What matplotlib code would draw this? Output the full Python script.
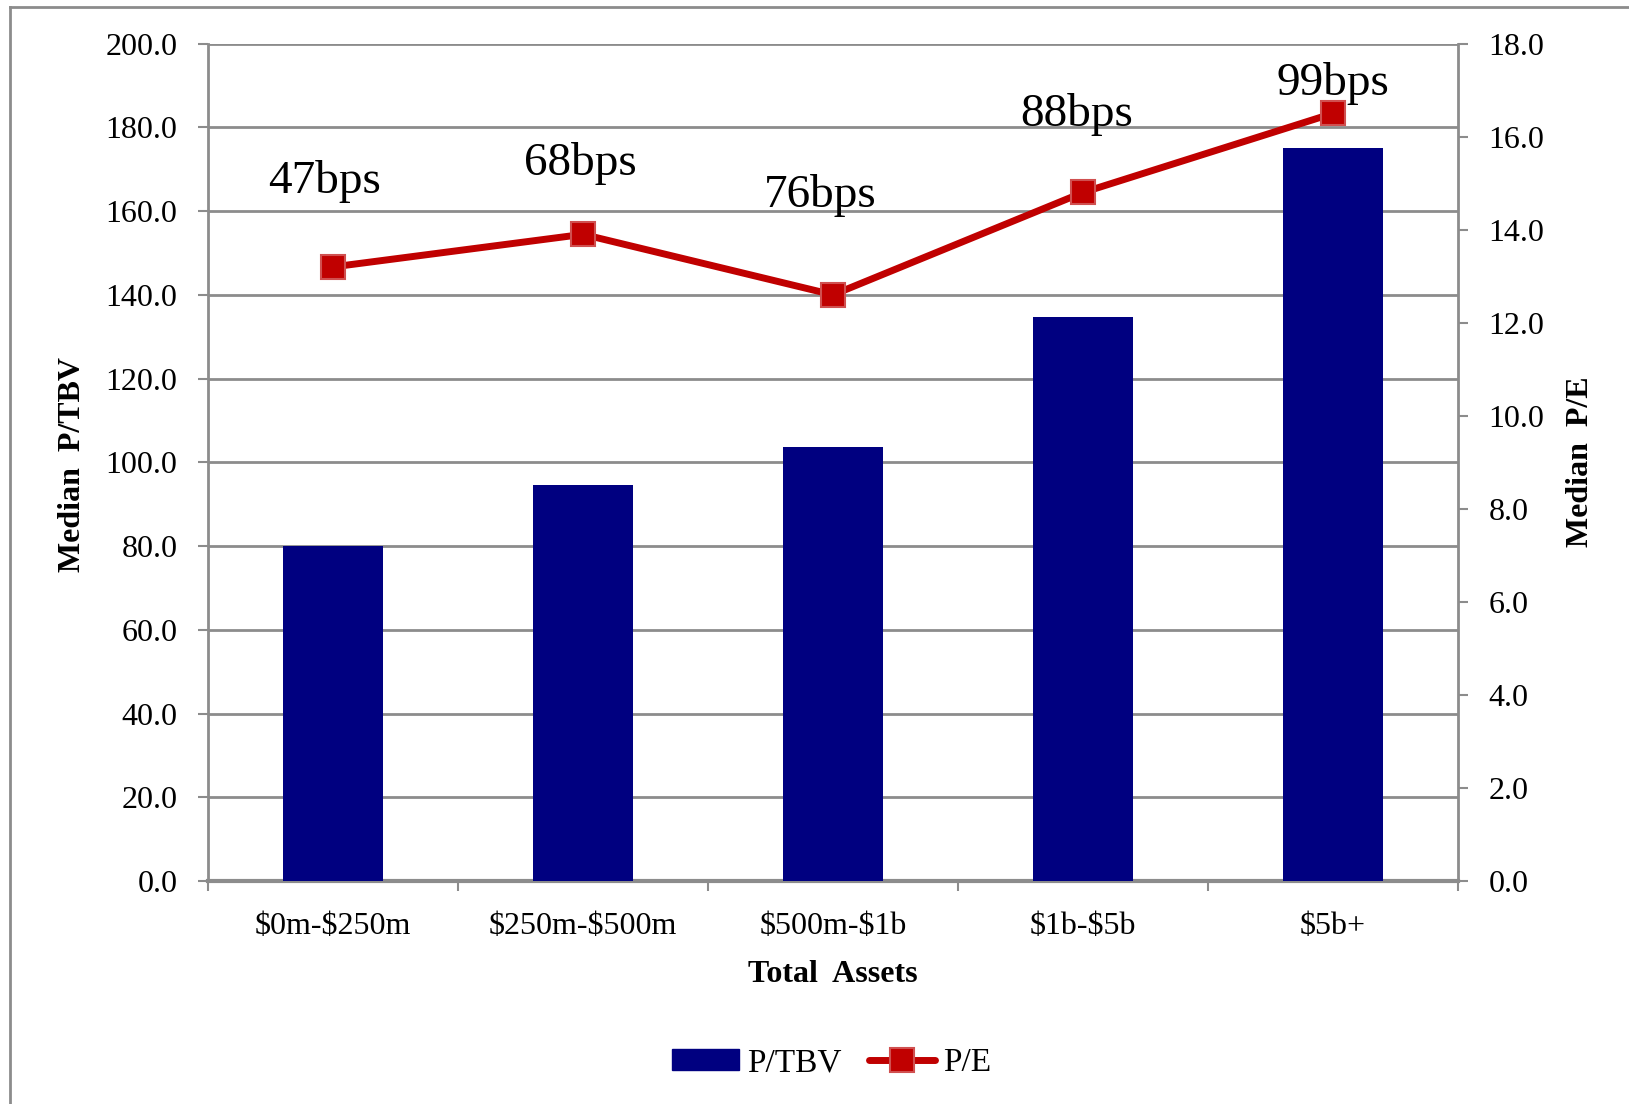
import matplotlib
matplotlib.use("Agg")
import matplotlib.pyplot as plt
from matplotlib.lines import Line2D
from matplotlib.patches import Patch
import numpy as np

# Data
categories = ["$0m-$250m", "$250m-$500m", "$500m-$1b", "$1b-$5b", "$5b+"]
p_tbv = [80.0, 94.5, 103.7, 134.7, 175.0]
p_e = [13.2, 13.9, 12.6, 14.8, 16.5]
bps_labels = ["47bps", "68bps", "76bps", "88bps", "99bps"]
bps_label_y = [14.79, 15.18, 14.49, 16.23, 16.90]
bps_label_dx = [-0.034, -0.01, -0.05, -0.025, 0.0]
left_ticks = [0, 20, 40, 60, 80, 100, 120, 140, 160, 180, 200]
right_ticks = [0, 2, 4, 6, 8, 10, 12, 14, 16, 18]

plt.rcParams["font.family"] = ["Liberation Serif", "DejaVu Serif"]
plt.rcParams["text.parse_math"] = False

W, H = 1629, 1104
fig = plt.figure(figsize=(W / 100, H / 100), dpi=100)

grey = "#8c8c8c"
navy = "#000080"
red = "#C00000"

ax = fig.add_axes([208 / W, 1 - 881 / H, (1458 - 208) / W, (881 - 43.6) / H])
ax2 = ax.twinx()

x = np.arange(len(categories))
ax.bar(x, p_tbv, width=0.4, color=navy, zorder=3)
ax.set_xlim(-0.5, len(categories) - 0.5)
ax.set_ylim(0, 200)
ax.set_yticks(left_ticks)
ax.set_yticklabels([f"{v:.1f}" for v in left_ticks])
ax.yaxis.grid(True, color=grey, linewidth=2.0, zorder=0)
ax.set_axisbelow(True)

ax.set_xticks(x)
ax.set_xticklabels(categories)
ax.set_xticks(np.arange(len(categories) + 1) - 0.5, minor=True)
ax.tick_params(axis="x", which="major", length=0, pad=22, labelsize=23)
ax.tick_params(axis="x", which="minor", length=7, width=1.5, color=grey, direction="out")
ax.tick_params(axis="y", length=7, width=1.5, color=grey, pad=15, labelsize=23)

ax.spines["top"].set_visible(False)
ax2.spines["top"].set_visible(False)
ax.spines["left"].set_color(grey)
ax.spines["left"].set_linewidth(2.0)
ax.spines["bottom"].set_color(grey)
ax.spines["bottom"].set_linewidth(3.0)
ax.spines["right"].set_visible(False)
ax2.spines["left"].set_visible(False)
ax2.spines["bottom"].set_visible(False)
ax2.spines["right"].set_color(grey)
ax2.spines["right"].set_linewidth(2.0)

ax2.plot(x, p_e, color=red, linewidth=5, marker="s", markersize=17,
         markerfacecolor=red, markeredgecolor="#d05050", markeredgewidth=1.5,
         zorder=4, solid_capstyle="round")
ax2.set_ylim(0, 18)
ax2.set_yticks(right_ticks)
ax2.set_yticklabels([f"{v:.1f}" for v in right_ticks])
ax2.tick_params(axis="y", length=7, width=1.5, color=grey, pad=15, labelsize=23)

for i, (lab, ly, dx) in enumerate(zip(bps_labels, bps_label_y, bps_label_dx)):
    ax2.text(i + dx, ly, lab, ha="center", va="baseline", fontsize=34, zorder=5)

# Axis titles
fig.text(72 / W, 1 - 465 / H, "Median  P/TBV", rotation=90, ha="center", va="center",
         fontsize=23, fontweight="bold")
fig.text(1581 / W, 1 - 462 / H, "Median  P/E", rotation=90, ha="center", va="center",
         fontsize=23, fontweight="bold")
fig.text(833 / W, 1 - 975 / H, "Total  Assets", ha="center", va="center",
         fontsize=23, fontweight="bold")

# Legend
handles = [
    Patch(facecolor=navy, edgecolor=navy),
    Line2D([0], [0], color=red, linewidth=5, marker="s", markersize=17,
           markerfacecolor=red, markeredgecolor="#d05050", markeredgewidth=1.5,
           solid_capstyle="round"),
]
fig.legend(handles, ["P/TBV", "P/E"], loc="center", bbox_to_anchor=(832 / W, 1 - 1063 / H),
           ncol=2, frameon=False, fontsize=24, handlelength=2.0, handleheight=0.55,
           handletextpad=0.25, columnspacing=0.8)

# Chart frame (left and top edges)
fig.add_artist(Line2D([10 / W, 10 / W], [0, 1 - 7 / H], transform=fig.transFigure,
                      color=grey, linewidth=2.0))
fig.add_artist(Line2D([10 / W, 1], [1 - 7 / H, 1 - 7 / H], transform=fig.transFigure,
                      color=grey, linewidth=2.0))

fig.savefig("out.png", dpi=100)
